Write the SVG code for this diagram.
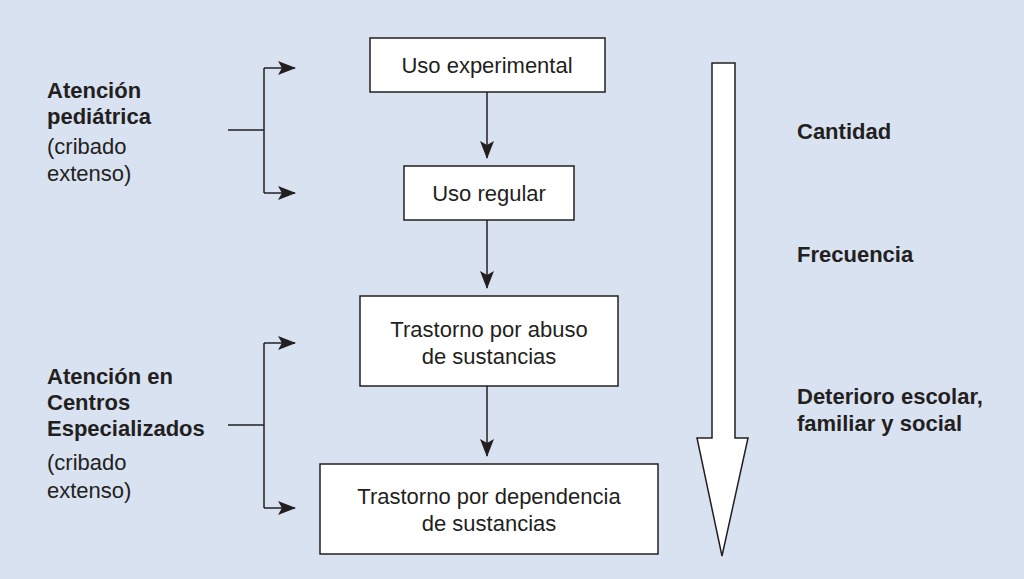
<svg xmlns="http://www.w3.org/2000/svg" width="1024" height="579" viewBox="0 0 1024 579">
<style>
.box{fill:#fff;stroke:#231f20;stroke-width:1.5}
.ln{fill:none;stroke:#231f20;stroke-width:1.5}
text{font-family:"Liberation Sans Narrow","Liberation Sans",Arial,sans-serif;font-size:22px;fill:#231f20}
.c{text-anchor:middle}
.b{font-weight:bold}
</style>
<defs>
<marker id="ah" markerWidth="18" markerHeight="14" refX="17" refY="7" orient="auto" markerUnits="userSpaceOnUse">
<path d="M0,0 L18,7 L0,14 L4,7 Z" fill="#231f20"/>
</marker>
</defs>
<rect width="1024" height="579" fill="#d9e2f1"/>
<g id="connectors">
<path class="ln" d="M487,92 V158" marker-end="url(#ah)"/>
<path class="ln" d="M487,220 V288" marker-end="url(#ah)"/>
<path class="ln" d="M487,386 V456" marker-end="url(#ah)"/>
<path class="ln" d="M228,130 H264 M264,68 V193"/>
<path class="ln" d="M264,68 H295" marker-end="url(#ah)"/>
<path class="ln" d="M264,193 H295" marker-end="url(#ah)"/>
<path class="ln" d="M228,425 H264 M264,343 V508"/>
<path class="ln" d="M264,343 H295" marker-end="url(#ah)"/>
<path class="ln" d="M264,508 H295" marker-end="url(#ah)"/>
</g>
<g id="n1"><rect class="box" x="370" y="38" width="235" height="54"/><text class="c" x="487" y="73">Uso experimental</text></g>
<g id="n2"><rect class="box" x="404" y="166" width="170" height="54"/><text class="c" x="489" y="201">Uso regular</text></g>
<g id="n3"><rect class="box" x="360" y="296" width="258" height="90"/><text class="c" x="489" y="337">Trastorno por abuso</text><text class="c" x="489" y="364">de sustancias</text></g>
<g id="n4"><rect class="box" x="320" y="464" width="338" height="90"/><text class="c" x="489" y="504">Trastorno por dependencia</text><text class="c" x="489" y="531">de sustancias</text></g>
<g id="bigarrow"><path d="M712,63 H735 V438 H748 L722,556 L697,438 H712 Z" fill="#fff" stroke="#231f20" stroke-width="1.5"/></g>
<g id="left1"><text class="b" x="47" y="98">Atención</text><text class="b" x="47" y="124">pediátrica</text><text x="47" y="154">(cribado</text><text x="47" y="181">extenso)</text></g>
<g id="left2"><text class="b" x="47" y="384">Atención en</text><text class="b" x="47" y="410">Centros</text><text class="b" x="47" y="436">Especializados</text><text x="47" y="470">(cribado</text><text x="47" y="498">extenso)</text></g>
<g id="right"><text class="b" x="797" y="139">Cantidad</text><text class="b" x="797" y="262">Frecuencia</text><text class="b" x="797" y="404">Deterioro escolar,</text><text class="b" x="797" y="431">familiar y social</text></g>
</svg>
